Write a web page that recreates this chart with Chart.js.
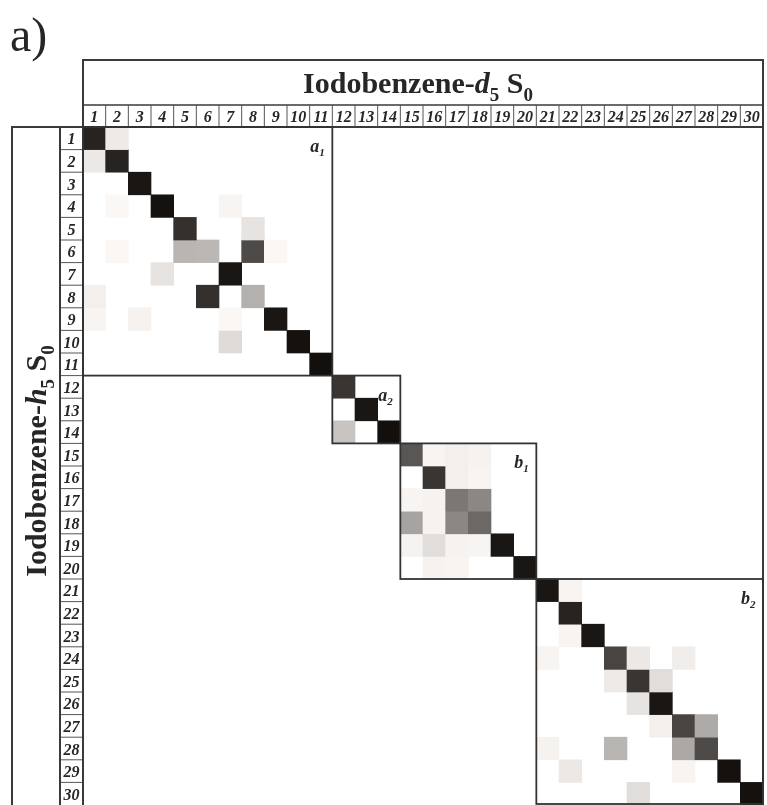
<!DOCTYPE html>
<html>
<head>
<meta charset="utf-8">
<script src="https://cdn.jsdelivr.net/npm/chart.js@4.4.1/dist/chart.umd.min.js"></script>
<style>
  body { margin: 0; background: #fff; }
  #wrap { width: 767px; height: 805px; position: relative; }
</style>
</head>
<body>
<div id="wrap"><canvas id="chartMatriz"></canvas></div>
<script>
// rotulos das colunas (d5) e das linhas (h5)
const colunas = ['1','2','3','4','5','6','7','8','9','10','11','12','13','14','15','16','17','18','19','20','21','22','23','24','25','26','27','28','29','30'];
const linhas  = ['1','2','3','4','5','6','7','8','9','10','11','12','13','14','15','16','17','18','19','20','21','22','23','24','25','26','27','28','29','30'];

// valor da diagonal (linha i, coluna i), 0 = branco, 1 = preto
const diagonal = [0.85, 0.85, 0.90, 0.92, 0.80, 0.27, 0.90, 0.30, 0.90, 0.92, 0.93,
                  0.78, 0.90, 0.93,
                  0.65, 0.78, 0.52, 0.58, 0.90, 0.90,
                  0.90, 0.85, 0.90, 0.72, 0.78, 0.90, 0.72, 0.70, 0.92, 0.92];

// fora da diagonal: [linha, coluna, valor]
const foraDiagonal = [
  [1, 2, 0.07], [2, 1, 0.08], [4, 2, 0.02], [4, 7, 0.03], [5, 8, 0.10],
  [6, 2, 0.02], [6, 5, 0.28], [6, 8, 0.70], [6, 9, 0.02], [7, 4, 0.10],
  [8, 1, 0.05], [8, 6, 0.80], [9, 1, 0.03], [9, 3, 0.04], [9, 7, 0.02], [10, 7, 0.13],
  [14, 12, 0.22],
  [15, 16, 0.03], [15, 17, 0.05], [15, 18, 0.04], [16, 17, 0.05], [16, 18, 0.03],
  [17, 15, 0.03], [17, 16, 0.04], [17, 18, 0.46], [18, 15, 0.35], [18, 16, 0.04],
  [18, 17, 0.46], [19, 15, 0.04], [19, 16, 0.12], [19, 17, 0.04], [19, 18, 0.03],
  [20, 16, 0.04], [20, 17, 0.03],
  [21, 22, 0.03], [23, 22, 0.03], [24, 21, 0.03], [24, 25, 0.08], [24, 27, 0.06],
  [25, 24, 0.07], [25, 26, 0.12], [26, 25, 0.10], [27, 26, 0.05], [27, 28, 0.32],
  [28, 21, 0.04], [28, 24, 0.28], [28, 27, 0.33], [29, 22, 0.08], [29, 27, 0.03],
  [30, 25, 0.12]
];

// blocos de simetria
const blocos = [
  { nome: 'a', sub: '1', de: 1,  ate: 11 },
  { nome: 'a', sub: '2', de: 12, ate: 14 },
  { nome: 'b', sub: '1', de: 15, ate: 20 },
  { nome: 'b', sub: '2', de: 21, ate: 30 }
];

const SERIF = '"Liberation Serif", "DejaVu Serif", serif';
const TINTA = '#262626';

function cinza(v) {
  if (!v) return 'rgba(255,255,255,0)';
  const g = Math.round(255 * (1 - v));
  return `rgb(${g},${Math.max(g - 3, 0)},${Math.max(g - 5, 0)})`;
}

// monta a matriz a partir das listas
const matriz = linhas.map((_, i) => colunas.map((_, j) => (i === j ? diagonal[i] : 0)));
foraDiagonal.forEach(([l, c, v]) => { matriz[l - 1][c - 1] = v; });

const datasets = linhas.map((_, i) => ({
  label: 'linha ' + linhas[i],
  data: colunas.map(() => [i + 0.5, i + 1.5]),
  backgroundColor: matriz[i].map(cinza),
  borderWidth: 0,
  grouped: false,
  barPercentage: 1,
  categoryPercentage: 1
}));

// texto com italico e subscritos, pedaco por pedaco, centrado em x
function textoRico(ctx, partes, x, y, tam) {
  const fonte = p => `${p.italic ? 'italic ' : ''}bold ${p.sub ? Math.round(tam * 0.62) : tam}px ${SERIF}`;
  ctx.textAlign = 'left';
  let total = 0;
  partes.forEach(p => { ctx.font = fonte(p); total += ctx.measureText(p.t).width; });
  let cx = x - total / 2;
  partes.forEach(p => {
    ctx.font = fonte(p);
    ctx.fillText(p.t, cx, y + (p.sub ? tam * 0.28 : 0));
    cx += ctx.measureText(p.t).width;
  });
}

const molduras = {
  id: 'molduras',
  afterDraw(chart) {
    const ctx = chart.ctx;
    const xs = chart.scales.x, ys = chart.scales.y;
    const area = chart.chartArea;
    const w = xs.width / colunas.length;
    const xBorda = i => xs.getPixelForValue(i) - w / 2;      // borda esquerda da coluna i (0-based)
    const yBorda = i => ys.getPixelForValue(i + 0.5);        // borda de cima da linha i (0-based)

    const topoTitulo = 60, topoRotulos = 105;
    const esqRotulos = 60, esqTitulo = 12;
    const fundo = chart.height;

    ctx.save();
    ctx.fillStyle = TINTA;
    ctx.textBaseline = 'alphabetic';

    // a)
    ctx.font = `48px ${SERIF}`;
    ctx.textAlign = 'left';
    ctx.fillText('a)', 10, 51);

    // caixa do titulo de cima
    ctx.strokeStyle = '#3a3a3a';
    ctx.lineWidth = 2;
    ctx.strokeRect(area.left, topoTitulo, area.right - area.left, area.top - topoTitulo);
    ctx.lineWidth = 1.5;
    ctx.beginPath();
    ctx.moveTo(area.left, topoRotulos);
    ctx.lineTo(area.right, topoRotulos);
    ctx.stroke();

    textoRico(ctx, [
      { t: 'Iodobenzene-' }, { t: 'd', italic: true }, { t: '5', sub: true },
      { t: ' S' }, { t: '0', sub: true }
    ], 418, 93, 30);

    // rotulos das colunas
    ctx.strokeStyle = '#555';
    ctx.lineWidth = 1;
    ctx.font = `italic bold 16px ${SERIF}`;
    ctx.textAlign = 'center';
    colunas.forEach((c, i) => {
      const x0 = xBorda(i);
      if (i > 0) {
        ctx.beginPath();
        ctx.moveTo(x0, topoRotulos);
        ctx.lineTo(x0, area.top);
        ctx.stroke();
      }
      ctx.fillText(c, x0 + w / 2, area.top - 5);
    });

    // coluna dos rotulos das linhas
    linhas.forEach((l, i) => {
      const y0 = yBorda(i);
      const y1 = yBorda(i + 1);
      if (i > 0) {
        ctx.beginPath();
        ctx.moveTo(esqRotulos, y0);
        ctx.lineTo(area.left, y0);
        ctx.stroke();
      }
      ctx.fillText(l, (esqRotulos + area.left) / 2, (y0 + y1) / 2 + 6);
    });

    // caixa da esquerda
    ctx.strokeStyle = '#3a3a3a';
    ctx.lineWidth = 2;
    ctx.beginPath();
    ctx.moveTo(esqTitulo, fundo);
    ctx.lineTo(esqTitulo, area.top);
    ctx.lineTo(area.left, area.top);
    ctx.moveTo(esqRotulos, area.top);
    ctx.lineTo(esqRotulos, fundo);
    ctx.moveTo(area.left, area.top);
    ctx.lineTo(area.left, fundo);
    ctx.moveTo(area.right, area.top);
    ctx.lineTo(area.right, fundo);
    ctx.stroke();

    // titulo vertical
    ctx.save();
    ctx.translate(36, 461);
    ctx.rotate(-Math.PI / 2);
    textoRico(ctx, [
      { t: 'Iodobenzene-' }, { t: 'h', italic: true }, { t: '5', sub: true },
      { t: ' S' }, { t: '0', sub: true }
    ], 0, 10, 30);
    ctx.restore();

    // blocos
    ctx.lineWidth = 1.8;
    ctx.strokeStyle = '#333';
    blocos.forEach(b => {
      const x0 = xBorda(b.de - 1), x1 = xBorda(b.ate);
      const y0 = yBorda(b.de - 1), y1 = Math.min(yBorda(b.ate), fundo - 1);
      ctx.strokeRect(x0, y0, x1 - x0, y1 - y0);
      ctx.font = `italic bold 18px ${SERIF}`;
      ctx.textAlign = 'right';
      ctx.fillText(b.nome, x1 - 13, y0 + 25);
      ctx.font = `italic bold 11px ${SERIF}`;
      ctx.textAlign = 'left';
      ctx.fillText(b.sub, x1 - 13, y0 + 29);
    });

    ctx.restore();
  }
};

new Chart(document.getElementById('chartMatriz'), {
  type: 'bar',
  data: { labels: colunas, datasets: datasets },
  options: {
    responsive: true,
    maintainAspectRatio: false,
    animation: false,
    layout: { padding: { left: 83, top: 127, right: 4, bottom: 0 } },
    plugins: { legend: { display: false }, tooltip: { enabled: false } },
    scales: {
      x: { display: false, offset: true },
      y: { display: false, reverse: true, min: 0.5, max: 30.5 }
    }
  },
  plugins: [molduras]
});
</script>
</body>
</html>
